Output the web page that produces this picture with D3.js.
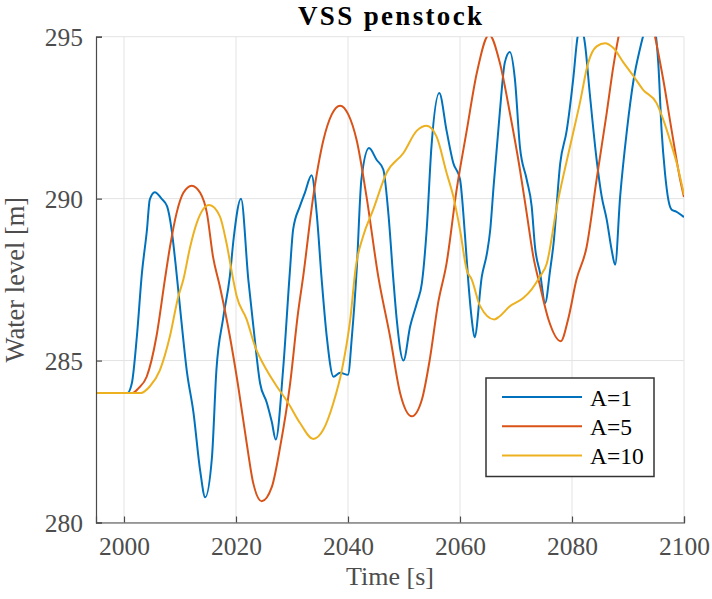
<!DOCTYPE html>
<html>
<head>
<meta charset="utf-8">
<script src="https://cdn.jsdelivr.net/npm/d3@7"></script>
<style>
  html, body { margin: 0; padding: 0; background: #fff; }
  svg { display: block; }
</style>
</head>
<body>
<div id="chart"></div>
<script>
// Water level in the penstock after a load change, for three values of A.
const titleText = "VSS penstock";
const xLabel = "Time [s]";
const yLabel = "Water level [m]";
const xTicks = [2000, 2020, 2040, 2060, 2080, 2100];
const yTicks = [280, 285, 290, 295];
const seriesNames = ["A=1", "A=5", "A=10"];
const seriesColors = ["#0072BD", "#D95319", "#EDB120"];

// A=1
const timeA1 = [1995, 2000.6, 2001.4, 2002.3, 2003.2, 2004.1, 2004.6, 2005.5, 2006.7, 2007.7, 2008.5, 2009.2, 2010.2, 2011.2,
  2012.4, 2013.6, 2014.5, 2015.7, 2016.5, 2017.7, 2018.9, 2019.6, 2020.9, 2022.2, 2023.1, 2024.3, 2025.5, 2026.4,
  2027.1, 2028.4, 2029.6, 2030.2, 2031.4, 2032.3, 2033.5, 2034.4, 2035.3, 2036.2, 2037.4, 2038.6, 2040.0, 2040.7,
  2041.55, 2042.4, 2043.75, 2045.1, 2046.3, 2047.2, 2048.1, 2048.7, 2049.9, 2051.1, 2052.3, 2053.2, 2054.05, 2054.9,
  2056.3, 2057.6, 2058.8, 2060.0, 2060.9, 2061.5, 2062.1, 2062.6, 2063.9, 2064.8, 2065.4, 2066.0, 2067.1, 2068.0,
  2068.9, 2069.8, 2070.7, 2071.9, 2072.8, 2073.4, 2074.3, 2075.2, 2076.1, 2076.7, 2077.9, 2079.05, 2080.2, 2081.0,
  2081.6, 2082.3, 2083.2, 2084.4, 2085.3, 2086.2, 2087.1, 2087.7, 2088.6, 2089.8, 2091.0, 2092.1, 2093.0, 2094.2,
  2095.4, 2096.0, 2096.6, 2097.2, 2097.8, 2098.6, 2100];
const levelA1 = [284.0, 284.0, 284.3, 285.75, 287.7, 289.04, 289.97, 290.2, 290.0, 289.76, 289.04, 288.0, 286.3, 284.7,
  283.4, 281.6, 280.78, 282.0, 284.7, 286.3, 287.6, 288.8, 290.0, 287.5, 286.06, 284.3, 283.7, 283.1,
  282.56, 284.7, 287.7, 289.04, 289.76, 290.18, 290.72, 289.56, 287.5, 285.75, 284.5, 284.62, 284.56, 285.75,
  287.8, 290.6, 291.56, 291.2, 290.9, 289.56, 287.5, 286.27, 285.0, 286.06, 286.78, 287.4, 289.04, 291.6,
  293.26, 292.1, 291.1, 290.6, 288.84, 287.4, 286.27, 285.72, 287.6, 288.3, 289.04, 290.38, 292.65, 294.2,
  294.53, 293.7, 291.6, 290.6, 289.76, 288.5, 287.7, 286.78, 287.8, 288.6, 291.1, 292.1, 293.67, 295.0,
  295.35, 294.8, 293.2, 291.2, 290.07, 289.35, 288.4, 287.96, 290.07, 292.1, 293.67, 294.6, 295.2, 295.7,
  294.2, 292.1, 290.8, 289.97, 289.66, 289.6, 289.43];

// A=5
const timeA5 = [1995, 2001.5, 2002.6, 2004.05, 2005.8, 2007.3, 2008.2, 2009.4, 2010.6, 2012.1, 2013.6, 2014.8, 2015.9,
  2017.1, 2018.9, 2020.4, 2021.9, 2023.1, 2024.6, 2026.4, 2027.9, 2029.6, 2031.1, 2032.0, 2033.8, 2035.6, 2037.1,
  2038.6, 2040.05, 2041.55, 2043.3, 2045.4, 2047.5, 2049.3, 2051.4, 2053.2, 2054.6, 2056.1, 2057.6, 2059.4, 2061.2,
  2063.0, 2065.2, 2067.1, 2068.9, 2070.7, 2071.9, 2073.1, 2074.3, 2075.8, 2078.0, 2079.3, 2080.8, 2082.6, 2084.4,
  2086.2, 2087.4, 2089.4, 2091.7, 2094.0, 2096.3, 2097.8, 2099.3, 2100];
const levelA5 = [284.0, 284.0, 284.15, 284.5, 285.75, 287.5, 288.5, 289.56, 290.18, 290.4, 290.18, 289.56, 288.2,
  287.3, 285.75, 284.2, 282.46, 281.2, 280.66, 281.1, 282.35, 284.2, 286.5, 287.6, 290.07, 291.8, 292.6,
  292.87, 292.6, 291.8, 290.07, 287.6, 285.75, 284.0, 283.28, 283.8, 285.03, 286.78, 288.0, 290.28, 292.1,
  293.88, 295.06, 294.2, 292.65, 290.9, 289.56, 288.2, 287.3, 286.27, 285.6, 286.27, 287.5, 288.5, 290.6,
  292.65, 294.1, 295.8, 296.4, 295.6, 293.67, 292.1, 290.6, 290.05];

// A=10
const timeA10 = [1995, 2003.0, 2004.6, 2006.4, 2008.2, 2009.7, 2010.6, 2011.8, 2013.0, 2015.2, 2017.1, 2018.3, 2019.5,
  2020.1, 2021.9, 2023.4, 2025.5, 2027.3, 2029.3, 2031.4, 2033.8, 2035.6, 2037.4, 2038.9, 2040.4, 2041.4, 2042.7,
  2044.5, 2046.9, 2049.9, 2052.3, 2054.05, 2055.8, 2057.6, 2058.8, 2060.0, 2061.2, 2062.1, 2063.6, 2066.1, 2067.1,
  2068.9, 2071.3, 2072.8, 2074.3, 2075.5, 2077.3, 2079.9, 2081.4, 2082.9, 2084.4, 2085.9, 2087.4, 2089.2, 2091.0,
  2092.7, 2095.1, 2096.3, 2097.5, 2098.7, 2100];
const levelA10 = [284.0, 284.0, 284.2, 284.7, 285.75, 286.98, 287.5, 288.5, 289.25, 289.8, 289.46, 288.63, 287.5,
  287.0, 286.27, 285.44, 284.7, 284.2, 283.7, 283.08, 282.58, 282.87, 283.7, 284.7, 286.27, 287.9, 288.84,
  289.66, 290.8, 291.41, 292.1, 292.25, 291.92, 290.8, 290.07, 289.04, 287.8, 287.5, 286.68, 286.27, 286.37,
  286.68, 286.93, 287.2, 287.6, 288.0, 289.76, 291.8, 292.95, 294.2, 294.7, 294.8, 294.65, 294.2, 293.78,
  293.36, 292.95, 292.44, 291.8, 291.1, 290.12];

const seriesTimes = [timeA1, timeA5, timeA10];
const seriesLevels = [levelA1, levelA5, levelA10];

const width = 712, height = 599;
const margin = { top: 36.7, right: 28, bottom: 76.5, left: 96 };
const innerW = width - margin.left - margin.right;
const innerH = height - margin.top - margin.bottom;

const serifFont = "Liberation Serif";
const axisColor = "#4a4a4a";
const textColor = "#4d4d4d";

const svg = d3.select("#chart").append("svg")
  .attr("width", width).attr("height", height)
  .attr("font-family", serifFont);

const x = d3.scaleLinear().domain([1995, 2100]).range([margin.left, margin.left + innerW]);
const y = d3.scaleLinear().domain([280, 295]).range([margin.top + innerH, margin.top]);

// grid
const grid = svg.append("g").attr("stroke", "#e3e3e3").attr("stroke-width", 1);
grid.selectAll(".gx").data(xTicks).join("line")
  .attr("x1", d => x(d)).attr("x2", d => x(d))
  .attr("y1", margin.top).attr("y2", margin.top + innerH);
grid.selectAll(".gy").data(yTicks).join("line")
  .attr("x1", margin.left).attr("x2", margin.left + innerW)
  .attr("y1", d => y(d)).attr("y2", d => y(d));

// series, clipped to the plot area
svg.append("clipPath").attr("id", "plot-clip").append("rect")
  .attr("x", margin.left).attr("y", margin.top).attr("width", innerW).attr("height", innerH);

const line = d3.line().x(d => x(d[0])).y(d => y(d[1])).curve(d3.curveMonotoneX);
const plot = svg.append("g").attr("clip-path", "url(#plot-clip)");
seriesNames.forEach((name, i) => {
  const pts = seriesTimes[i].map((t, k) => [t, seriesLevels[i][k]]);
  plot.append("path").datum(pts)
    .attr("fill", "none")
    .attr("stroke", seriesColors[i])
    .attr("stroke-width", 2)
    .attr("stroke-linejoin", "round")
    .attr("d", line);
});

// axes (left and bottom), ticks pointing inward
const xAxis = d3.axisBottom(x).tickValues(xTicks).tickSize(-6).tickPadding(14).tickFormat(d3.format("d"));
const yAxis = d3.axisLeft(y).tickValues(yTicks).tickSize(-6).tickPadding(13).tickFormat(d3.format("d"));

const gx = svg.append("g").attr("transform", `translate(0,${margin.top + innerH})`).call(xAxis);
const gy = svg.append("g").attr("transform", `translate(${margin.left},0)`).call(yAxis);
[gx, gy].forEach(g => {
  g.attr("font-family", serifFont).attr("font-size", 25.5);
  g.select(".domain").attr("stroke", axisColor).attr("stroke-width", 1.2);
  g.selectAll(".tick line").attr("stroke", axisColor).attr("stroke-width", 1.2);
  g.selectAll(".tick text")
    .attr("fill", textColor)
    .attr("font-family", serifFont)
    .attr("font-size", 25.5);
});
gx.selectAll(".tick text").attr("dy", "0.71em");
gy.selectAll(".tick text").attr("dy", "0.34em");

// title and axis labels
svg.append("text")
  .attr("x", margin.left + innerW / 2).attr("y", 25)
  .attr("text-anchor", "middle")
  .attr("fill", "#000")
  .attr("font-family", serifFont)
  .attr("font-size", 27).attr("font-weight", "bold")
  .attr("textLength", 184).attr("lengthAdjust", "spacing")
  .text(titleText);

svg.append("text")
  .attr("x", margin.left + innerW / 2).attr("y", 585)
  .attr("text-anchor", "middle")
  .attr("fill", textColor)
  .attr("font-family", serifFont)
  .attr("font-size", 26)
  .text(xLabel);

svg.append("text")
  .attr("transform", `translate(24,${margin.top + innerH / 2}) rotate(-90)`)
  .attr("text-anchor", "middle")
  .attr("fill", textColor)
  .attr("font-family", serifFont)
  .attr("font-size", 26.5)
  .text(yLabel);

// legend
const legend = svg.append("g").attr("transform", "translate(486,378)");
legend.append("rect")
  .attr("width", 168).attr("height", 98.5)
  .attr("fill", "#fff").attr("stroke", "#333").attr("stroke-width", 1.5);
seriesNames.forEach((name, i) => {
  const cy = 19 + i * 29.3;
  legend.append("line")
    .attr("x1", 16).attr("x2", 96).attr("y1", cy).attr("y2", cy)
    .attr("stroke", seriesColors[i]).attr("stroke-width", 2);
  legend.append("text")
    .attr("x", 104).attr("y", cy + 8.5)
    .attr("fill", "#000")
    .attr("font-family", serifFont)
    .attr("font-size", 23.5)
    .text(name);
});
</script>
</body>
</html>
